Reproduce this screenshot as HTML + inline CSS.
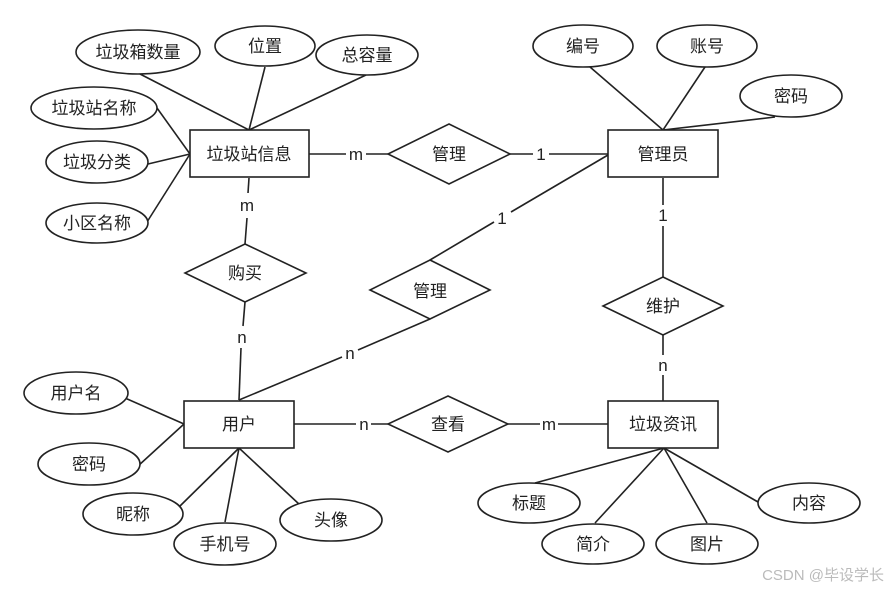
<!DOCTYPE html>
<html><head><meta charset="utf-8"><style>
html,body{margin:0;padding:0;background:#fff;}
svg text{font-family:"Liberation Sans","Noto Sans CJK SC",sans-serif;fill:#222;}
</style></head><body>
<svg width="886" height="590" viewBox="0 0 886 590" xmlns="http://www.w3.org/2000/svg">
<g stroke="#222" stroke-width="1.6" fill="none">
<line x1="140" y1="74" x2="249" y2="130"/>
<line x1="265" y1="67" x2="249" y2="130"/>
<line x1="366" y1="75" x2="249" y2="130"/>
<line x1="157" y1="108" x2="190" y2="154"/>
<line x1="148" y1="164" x2="190" y2="154"/>
<line x1="147" y1="222" x2="190" y2="154"/>
<line x1="590" y1="67" x2="663" y2="130"/>
<line x1="705" y1="67" x2="663" y2="130"/>
<line x1="775" y1="117" x2="663" y2="130"/>
<line x1="125" y1="398" x2="184" y2="424"/>
<line x1="138" y1="466" x2="184" y2="424"/>
<line x1="180" y1="506" x2="239" y2="448"/>
<line x1="225" y1="522" x2="239" y2="448"/>
<line x1="300" y1="505" x2="239" y2="448"/>
<line x1="535" y1="483" x2="664" y2="448"/>
<line x1="595" y1="523" x2="664" y2="448"/>
<line x1="707" y1="523" x2="664" y2="448"/>
<line x1="758" y1="502" x2="664" y2="448"/>
<line x1="309" y1="154" x2="346" y2="154"/><line x1="366" y1="154" x2="388" y2="154"/>
<line x1="510" y1="154" x2="533" y2="154"/><line x1="549" y1="154" x2="608" y2="154"/>
<line x1="249" y1="178" x2="248" y2="193"/><line x1="247" y1="218" x2="245" y2="244"/>
<line x1="245" y1="302" x2="243" y2="326"/><line x1="241" y1="348" x2="239" y2="400"/>
<line x1="608" y1="155" x2="511" y2="212"/><line x1="494" y1="222" x2="430" y2="260"/>
<line x1="430" y1="319" x2="358" y2="350"/><line x1="342" y1="357" x2="239" y2="400"/>
<line x1="663" y1="178" x2="663" y2="205"/><line x1="663" y1="226" x2="663" y2="277"/>
<line x1="663" y1="335" x2="663" y2="355"/><line x1="663" y1="375" x2="663" y2="401"/>
<line x1="294" y1="424" x2="356" y2="424"/><line x1="371" y1="424" x2="388" y2="424"/>
<line x1="508" y1="424" x2="540" y2="424"/><line x1="558" y1="424" x2="608" y2="424"/>
</g>
<g stroke="#222" stroke-width="1.6" fill="#fff">
<rect x="190" y="130" width="119" height="47"/>
<rect x="608" y="130" width="110" height="47"/>
<rect x="184" y="401" width="110" height="47"/>
<rect x="608" y="401" width="110" height="47"/>
<polygon points="449,124 510,154 449,184 388,154"/>
<polygon points="245,244 306,273 245,302 185,273"/>
<polygon points="430,260 490,290 430,319 370,290"/>
<polygon points="663,277 723,306 663,335 603,306"/>
<polygon points="448,396 508,424 448,452 388,424"/>
<ellipse cx="138" cy="52" rx="62" ry="22"/>
<ellipse cx="265" cy="46" rx="50" ry="20"/>
<ellipse cx="367" cy="55" rx="51" ry="20"/>
<ellipse cx="94" cy="108" rx="63" ry="21"/>
<ellipse cx="97" cy="162" rx="51" ry="21"/>
<ellipse cx="97" cy="223" rx="51" ry="20"/>
<ellipse cx="583" cy="46" rx="50" ry="21"/>
<ellipse cx="707" cy="46" rx="50" ry="21"/>
<ellipse cx="791" cy="96" rx="51" ry="21"/>
<ellipse cx="76" cy="393" rx="52" ry="21"/>
<ellipse cx="89" cy="464" rx="51" ry="21"/>
<ellipse cx="133" cy="514" rx="50" ry="21"/>
<ellipse cx="225" cy="544" rx="51" ry="21"/>
<ellipse cx="331" cy="520" rx="51" ry="21"/>
<ellipse cx="529" cy="503" rx="51" ry="20"/>
<ellipse cx="593" cy="544" rx="51" ry="20"/>
<ellipse cx="707" cy="544" rx="51" ry="20"/>
<ellipse cx="809" cy="503" rx="51" ry="20"/>
</g>
<g font-size="17" text-anchor="middle">
<text x="249" y="160">垃圾站信息</text>
<text x="663" y="160">管理员</text>
<text x="239" y="430">用户</text>
<text x="663" y="430">垃圾资讯</text>
<text x="449" y="160">管理</text>
<text x="245" y="279">购买</text>
<text x="430" y="297">管理</text>
<text x="663" y="312">维护</text>
<text x="448" y="430">查看</text>
<text x="138" y="58">垃圾箱数量</text>
<text x="265" y="52">位置</text>
<text x="367" y="61">总容量</text>
<text x="94" y="114">垃圾站名称</text>
<text x="97" y="168">垃圾分类</text>
<text x="97" y="229">小区名称</text>
<text x="583" y="52">编号</text>
<text x="707" y="52">账号</text>
<text x="791" y="102">密码</text>
<text x="76" y="399">用户名</text>
<text x="89" y="470">密码</text>
<text x="133" y="520">昵称</text>
<text x="225" y="550">手机号</text>
<text x="331" y="526">头像</text>
<text x="529" y="509">标题</text>
<text x="593" y="550">简介</text>
<text x="707" y="550">图片</text>
<text x="809" y="509">内容</text>
<text x="356" y="160">m</text>
<text x="541" y="160">1</text>
<text x="247" y="211">m</text>
<text x="242" y="343">n</text>
<text x="502" y="224">1</text>
<text x="350" y="359">n</text>
<text x="663" y="221">1</text>
<text x="663" y="371">n</text>
<text x="364" y="430">n</text>
<text x="549" y="430">m</text>
</g>
<text x="884" y="580" font-size="15" text-anchor="end" style="fill:#bbb">CSDN @毕设学长</text>
</svg>
</body></html>
